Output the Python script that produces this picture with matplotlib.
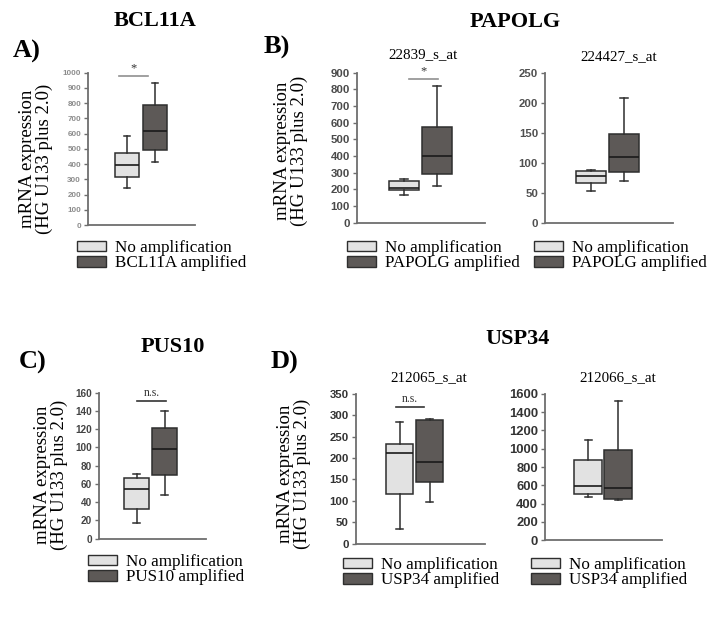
import matplotlib
matplotlib.use("Agg")
import matplotlib.pyplot as plt
from matplotlib.patches import Patch

# ---------------- data ----------------
# box stats: [low whisker, Q1, median, Q3, high whisker]
bcl11a_none = [241, 317, 394, 475, 586]
bcl11a_amp = [416, 492, 617, 786, 934]

papolg1_none = [166, 194, 210, 250, 260]
papolg1_amp = [220, 290, 400, 574, 820]

papolg2_none = [52, 65.5, 78, 86.7, 88.3]
papolg2_amp = [69.4, 84.4, 110, 147, 208]

pus10_none = [16.8, 32.5, 54, 66.8, 70.9]
pus10_amp = [47.9, 69.8, 98.6, 121.6, 139.9]

usp34a_none = [34, 117, 211, 232, 284]
usp34a_amp = [98, 145, 191, 288, 292]

usp34b_none = [476, 505, 596, 873, 1095]
usp34b_amp = [436, 455, 575, 985, 1516]

yticks_a = list(range(0, 1001, 100))
yticks_b1 = list(range(0, 901, 100))
yticks_b2 = list(range(0, 251, 50))
yticks_c = list(range(0, 161, 20))
yticks_d1 = list(range(0, 351, 50))
yticks_d2 = list(range(0, 1601, 200))

probes = ["22839_s_at", "224427_s_at", "212065_s_at", "212066_s_at"]
genes = ["BCL11A", "PAPOLG", "PUS10", "USP34"]
panel_letters = ["A)", "B)", "C)", "D)"]
legend_none = "No amplification"

# ---------------- layout ----------------
W, H = 718, 617
fig = plt.figure(figsize=(W / 100, H / 100), dpi=100)

LIGHT = "#e2e2e2"
DARK = "#5d5957"
EDGE = "#2e2e2e"
SERIF = "Liberation Serif"
SANS = "Liberation Sans"


def fx(x):
    return x / W


def fy(y):
    return 1 - y / H


def make_panel(x0, x1, ytop, ybot, c1, c2, bw, none_s, amp_s, ymax, yticks,
               tick_fs, tick_color, sig=None):
    ax = fig.add_axes([fx(x0), fy(ybot), fx(x1) - fx(x0), (ybot - ytop) / H])
    sp = c2 - c1
    xl = (1 - (c1 - x0) / sp, 2 + (x1 - c2) / sp)
    stats = []
    for s, lab in ((none_s, "none"), (amp_s, "amp")):
        stats.append(dict(whislo=s[0], q1=s[1], med=s[2], q3=s[3], whishi=s[4],
                          fliers=[], label=lab))
    w = bw / sp
    bp = ax.bxp(stats, positions=[1, 2], widths=w, patch_artist=True,
                showfliers=False, capwidths=w * 0.25,
                boxprops=dict(edgecolor=EDGE, linewidth=1.1),
                whiskerprops=dict(color=EDGE, linewidth=1.1),
                capprops=dict(color=EDGE, linewidth=1.1),
                medianprops=dict(color="#1a1a1a", linewidth=1.2))
    bp["boxes"][0].set_facecolor(LIGHT)
    bp["boxes"][1].set_facecolor(DARK)
    ax.set_xlim(*xl)
    ax.set_ylim(0, ymax)
    ax.set_yticks(yticks)
    ax.set_xticks([])
    for s in ("top", "right"):
        ax.spines[s].set_visible(False)
    for s in ("left", "bottom"):
        ax.spines[s].set_color("#6e6e6e")
        ax.spines[s].set_linewidth(1.3)
    ax.tick_params(axis="y", length=3, width=1, color="#6e6e6e", pad=2,
                   labelsize=tick_fs, labelcolor=tick_color)
    for lbl in ax.get_yticklabels():
        lbl.set_fontfamily(SANS)
        lbl.set_fontweight("bold")
    ax.patch.set_alpha(0)
    if sig is not None:
        xa, xb, yv, txt, lc, tfs = sig
        ax.plot([xa, xb], [yv, yv], color=lc, lw=1.2, clip_on=False)
        ax.text((xa + xb) / 2, yv + ymax * 0.012, txt, ha="center", va="bottom",
                fontsize=tfs, family=SERIF, color="#333333")
    return ax


def legend(x, y, label2):
    handles = [Patch(facecolor=LIGHT, edgecolor=EDGE, lw=1.0, label=legend_none),
               Patch(facecolor=DARK, edgecolor=EDGE, lw=1.0, label=label2)]
    fig.legend(handles=handles, loc="upper left", bbox_to_anchor=(fx(x), fy(y)),
               frameon=False, prop=dict(family=SERIF, size=12.3),
               handlelength=1.7, handleheight=0.6, handletextpad=0.55,
               labelspacing=-0.05, borderpad=0, borderaxespad=0)


def ylabel(x, y):
    fig.text(fx(x), fy(y), "mRNA expression\n(HG U133 plus 2.0)", rotation=90,
             ha="center", va="center", family=SERIF, fontsize=13.5,
             linespacing=0.95, multialignment="center")


# ---- Panel A ----
make_panel(88, 195, 72.7, 225, 127, 155, 24, bcl11a_none, bcl11a_amp, 1000,
           yticks_a, 5.8, "#8c8c8c", sig=(0.71, 1.75, 978, "*", "#909090", 9))
fig.text(fx(155), fy(21), genes[0], ha="center", va="center", family=SERIF,
         fontsize=16, fontweight="bold")
fig.text(fx(27), fy(51), panel_letters[0], ha="center", va="center", family=SERIF,
         fontsize=19, fontweight="bold")
ylabel(36, 159)
legend(77, 240, "BCL11A amplified")

# ---- Panel B ----
make_panel(356.7, 485, 72.7, 222.7, 404, 437, 30, papolg1_none, papolg1_amp, 900,
           yticks_b1, 8.2, "#4a4a4a", sig=(1.15, 2.03, 862, "*", "#909090", 9))
make_panel(545, 673, 72.7, 222.7, 591, 624, 30, papolg2_none, papolg2_amp, 250,
           yticks_b2, 8.2, "#505050")
fig.text(fx(515), fy(22), genes[1], ha="center", va="center", family=SERIF,
         fontsize=16, fontweight="bold")
fig.text(fx(277), fy(47), panel_letters[1], ha="center", va="center", family=SERIF,
         fontsize=19, fontweight="bold")
fig.text(fx(423), fy(55), probes[0], ha="center", va="center", family=SERIF,
         fontsize=10.8)
fig.text(fx(619), fy(57), probes[1], ha="center", va="center", family=SERIF,
         fontsize=10.8)
ylabel(291, 151)
legend(347, 240, "PAPOLG amplified")
legend(534, 240, "PAPOLG amplified")

# ---- Panel C ----
make_panel(99, 205.7, 392.7, 538.7, 136.5, 164.5, 25, pus10_none, pus10_amp, 160,
           yticks_c, 7.2, "#444444", sig=(1.02, 2.05, 151, "n.s.", "#333333", 8.5))
fig.text(fx(173), fy(347), genes[2], ha="center", va="center", family=SERIF,
         fontsize=16, fontweight="bold")
fig.text(fx(33), fy(362), panel_letters[2], ha="center", va="center", family=SERIF,
         fontsize=19, fontweight="bold")
ylabel(51, 475)
legend(88, 554, "PUS10 amplified")

# ---- Panel D ----
make_panel(355.7, 485, 393.7, 543.7, 399.5, 429.5, 27, usp34a_none, usp34a_amp, 350,
           yticks_d1, 8.2, "#333333", sig=(0.88, 1.82, 320, "n.s.", "#333333", 8.5))
make_panel(545, 661.7, 393.7, 540.3, 588, 618, 28, usp34b_none, usp34b_amp, 1600,
           yticks_d2, 9.4, "#333333")
fig.text(fx(518), fy(339), genes[3], ha="center", va="center", family=SERIF,
         fontsize=16, fontweight="bold")
fig.text(fx(284), fy(362), panel_letters[3], ha="center", va="center", family=SERIF,
         fontsize=19, fontweight="bold")
fig.text(fx(429), fy(378), probes[2], ha="center", va="center", family=SERIF,
         fontsize=10.8)
fig.text(fx(618), fy(378), probes[3], ha="center", va="center", family=SERIF,
         fontsize=10.8)
ylabel(294, 474)
legend(343, 557, "USP34 amplified")
legend(531, 557, "USP34 amplified")

fig.savefig("out.png", dpi=100, facecolor="white")
